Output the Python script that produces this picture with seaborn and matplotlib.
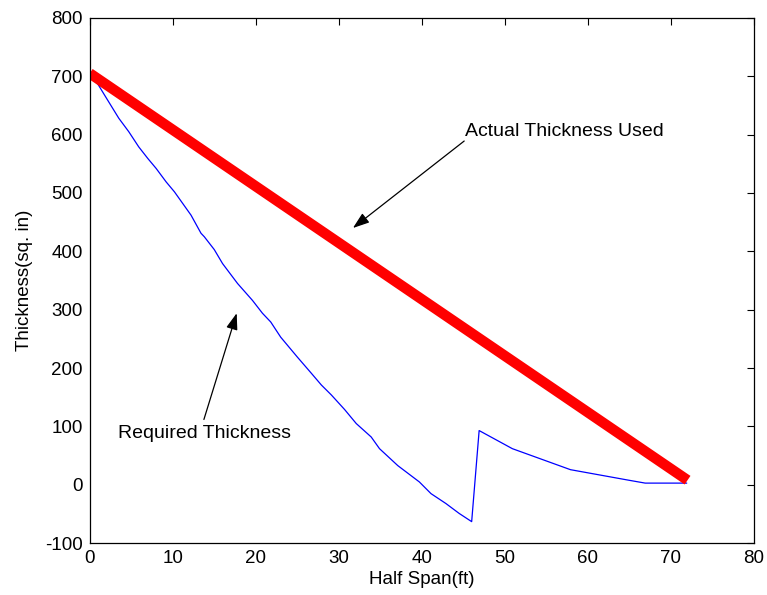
import matplotlib
matplotlib.use("Agg")
import matplotlib.pyplot as plt
import seaborn as sns
import pandas as pd

# Required thickness (blue)
req_span = [0.0, 0.1, 1.9, 3.5, 4.7, 5.9, 7.0, 8.0, 9.2, 10.2, 11.2, 12.2, 13.4, 13.8,
            15.0, 16.0, 17.8, 19.6, 20.8, 21.8, 23.0, 25.0, 26.7, 27.9, 29.1, 30.7,
            32.1, 33.9, 34.9, 37.1, 39.7, 41.1, 42.9, 44.5, 46.0, 46.9, 50.9, 57.9,
            64.9, 66.9, 71.9]
req_thick = [710, 707, 665, 628, 605, 579, 559, 542, 519, 502, 482, 462, 431, 425,
             403, 379, 345, 316, 294, 279, 253, 219, 191, 171, 154, 129,
             105, 82, 62, 33, 5, -15, -32, -49, -63, 93, 62, 26,
             8, 3, 3]

# Actual thickness used (red)
act_span = [0.0, 72.0]
act_thick = [705, 8]

xticks = [0, 10, 20, 30, 40, 50, 60, 70, 80]
yticks = [-100, 0, 100, 200, 300, 400, 500, 600, 700, 800]

sns.set_style("white")
plt.rcParams['font.family'] = ['Liberation Sans', 'DejaVu Sans']
plt.rcParams['axes.unicode_minus'] = False
plt.rcParams['text.color'] = 'black'
plt.rcParams['axes.labelcolor'] = 'black'

fig = plt.figure(figsize=(7.67, 5.95), dpi=100)
ax = fig.add_axes([0.117, 0.087, 0.866, 0.883])

df_req = pd.DataFrame({"span": req_span, "thick": req_thick})
df_act = pd.DataFrame({"span": act_span, "thick": act_thick})

sns.lineplot(data=df_req, x="span", y="thick", ax=ax, color=(0, 0, 1),
             lw=0.9, estimator=None, sort=False)
sns.lineplot(data=df_act, x="span", y="thick", ax=ax, color=(1, 0, 0),
             lw=7.5, estimator=None, sort=False, solid_capstyle="butt")

ax.set_xlim(0, 80)
ax.set_ylim(-100, 800)
ax.set_xticks(xticks)
ax.set_yticks(yticks)
ax.set_xlabel("Half Span(ft)", fontsize=13.5, labelpad=3, color="black")
ax.set_ylabel("Thickness(sq. in)", fontsize=13.5, labelpad=9, color="black")
ax.tick_params(axis="both", which="both", direction="in", length=5, width=0.8,
               top=True, right=True, labelsize=13.5, colors="black", pad=5)
for s in ax.spines.values():
    s.set_visible(True)
    s.set_color("black")
    s.set_linewidth(0.9)

arrow = dict(arrowstyle="-|>,head_length=1.0,head_width=0.35", color="black",
             lw=0.9, shrinkA=0, shrinkB=0)
ax.text(45.2, 606, "Actual Thickness Used", fontsize=14, ha="left", va="center",
        color="black")
ax.annotate("", xy=(31.7, 440), xytext=(45.1, 589), arrowprops=arrow)
ax.annotate("", xy=(17.7, 294), xytext=(13.75, 112), arrowprops=arrow)
ax.text(3.4, 88, "Required Thickness", fontsize=14, ha="left", va="center",
        color="black")

fig.savefig("out.png", dpi=100, facecolor="white")
